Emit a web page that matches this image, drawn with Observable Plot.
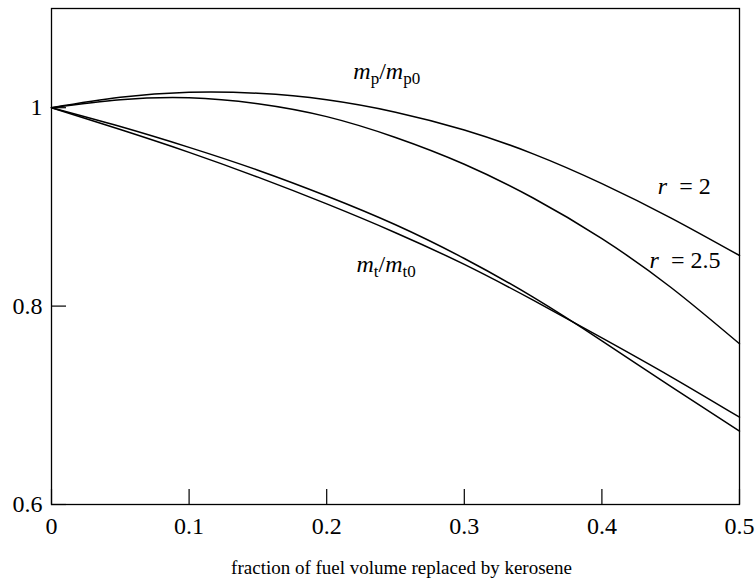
<!DOCTYPE html>
<html>
<head>
<meta charset="utf-8">
<script src="https://cdn.jsdelivr.net/npm/d3@7"></script>
<script src="https://cdn.jsdelivr.net/npm/@observablehq/plot@0.6"></script>
<style>
  html, body { margin: 0; padding: 0; background: #fff; }
</style>
</head>
<body>
<div id="chart"></div>
<script>
// Fraction of fuel volume replaced by kerosene
const fraction = [0, 0.05, 0.1, 0.15, 0.2, 0.25, 0.3, 0.35, 0.4, 0.45, 0.5];

// Propellant mass ratio m_p/m_p0
const mpR2  = [1.0, 1.0105, 1.0155, 1.0145, 1.008, 0.9955, 0.9775, 0.9535, 0.9235, 0.889, 0.851];
const mpR25 = [1.0, 1.008, 1.010, 1.004, 0.991, 0.970, 0.943, 0.909, 0.868, 0.819, 0.762];

// Total mass ratio m_t/m_t0
const mtR2  = [1.0, 0.981, 0.960, 0.937, 0.911, 0.882, 0.848, 0.809, 0.765, 0.719, 0.674];
const mtR25 = [1.0, 0.978, 0.955, 0.930, 0.903, 0.874, 0.842, 0.806, 0.768, 0.729, 0.688];

const xTicks = [0, 0.1, 0.2, 0.3, 0.4, 0.5];
const yTicks = [0.6, 0.8, 1];
const xTitle = "fraction of fuel volume replaced by kerosene";

const seriesList = [
  {key: "mp r=2", values: mpR2},
  {key: "mp r=2.5", values: mpR25},
  {key: "mt r=2", values: mtR2},
  {key: "mt r=2.5", values: mtR25}
];
const rows = seriesList.flatMap(s => s.values.map((v, i) => ({series: s.key, x: fraction[i], y: v})));

const serif = "'Liberation Serif', 'Times New Roman', serif";

const chart = Plot.plot({
  width: 755,
  height: 579,
  marginLeft: 51,
  marginRight: 16,
  marginTop: 8,
  marginBottom: 75,
  style: {fontFamily: serif, fontSize: "24px", color: "black", background: "white", overflow: "visible"},
  x: {domain: [0, 0.5]},
  y: {domain: [0.6, 1.1]},
  marks: [
    Plot.frame({stroke: "black", strokeWidth: 1.3}),
    // inward tick marks
    Plot.axisX(xTicks, {tickSize: 15, dy: -15, fill: "none", label: null, strokeWidth: 1.2}),
    Plot.axisY(yTicks, {tickSize: 15, dx: 15, fill: "none", label: null, strokeWidth: 1.2}),
    // tick labels
    Plot.axisX(xTicks, {tickSize: 0, tickPadding: 12, tickFormat: d => String(d), label: null, stroke: "none", fontSize: 24}),
    Plot.axisY(yTicks, {tickSize: 0, tickPadding: 9, tickFormat: d => String(d), label: null, stroke: "none", fontSize: 24}),
    Plot.text([xTitle], {frameAnchor: "bottom", dx: 6, dy: 69, lineAnchor: "bottom", fontSize: 19}),
    Plot.line(rows, {x: "x", y: "y", z: "series", curve: "natural", stroke: "black", strokeWidth: 1.5})
  ]
});

document.getElementById("chart").appendChild(chart);

// Curve annotations with italic symbols and subscripts
const sx = chart.scale("x"), sy = chart.scale("y");
const labels = [
  {x: 0.244, y: 1.028, anchor: "middle", parts: [["m", "i"], ["p", "sub"], ["/", ""], ["m", "i"], ["p0", "sub"]]},
  {x: 0.2435, y: 0.834, anchor: "middle", parts: [["m", "i"], ["t", "sub"], ["/", ""], ["m", "i"], ["t0", "sub"]]},
  {x: 0.441, y: 0.913, anchor: "start", parts: [["r", "i"], ["\u2002= 2", ""]]},
  {x: 0.435, y: 0.838, anchor: "start", parts: [["r", "i"], ["\u2002= 2.5", ""]]}
];
const svg = d3.select(chart);
const g = svg.append("g").attr("font-family", serif).attr("font-size", 24).attr("fill", "black");
for (const l of labels) {
  const t = g.append("text")
    .attr("x", sx.apply(l.x))
    .attr("y", sy.apply(l.y))
    .attr("text-anchor", l.anchor);
  let shifted = false;
  for (const [s, kind] of l.parts) {
    const ts = t.append("tspan").text(s);
    if (kind === "i") ts.attr("font-style", "italic");
    if (kind === "sub") {
      ts.attr("font-size", 17).attr("dy", 5);
      shifted = true;
    } else if (shifted) {
      ts.attr("dy", -5);
      shifted = false;
    }
  }
}
</script>
</body>
</html>
